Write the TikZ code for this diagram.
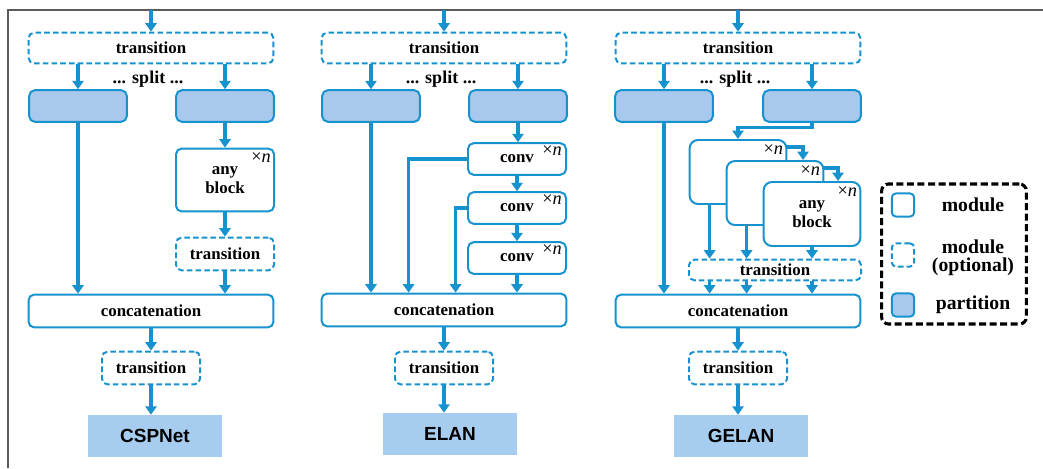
\documentclass[tikz,border=0pt]{standalone}
\usepackage{fontspec}
\setmainfont{Liberation Serif}
\setsansfont{Liberation Sans}
\usepackage{tikz}
\usetikzlibrary{shapes,arrows,arrows.meta}
\usetikzlibrary{positioning,calc}
\definecolor{lineblue}{RGB}{22,146,206}
\definecolor{partblue}{RGB}{168,200,238}
\definecolor{netblue}{RGB}{166,205,240}
\definecolor{framegray}{RGB}{90,90,90}
\tikzstyle{module} = [draw=lineblue, line width=1.4pt, rounded corners=4pt,
    fill=white, inner sep=0pt, align=center,
    font=\fontsize{12}{13.5}\selectfont\bfseries]
\tikzstyle{optmodule} = [module, dash pattern=on 4pt off 2.2pt]
\tikzstyle{partition} = [module, fill=partblue, minimum width=2.44cm,
    minimum height=0.79cm]
\tikzstyle{netname} = [fill=netblue, minimum width=3.35cm, minimum height=1.05cm,
    font=\fontsize{13.5}{15}\selectfont\sffamily\bfseries]
\tikzstyle{times} = [font=\fontsize{13}{13}\selectfont, inner sep=0pt]
\tikzstyle{note} = [font=\fontsize{12.8}{14}\selectfont\bfseries, inner sep=0pt]
\tikzstyle{flow} = [-{Triangle[width=8pt,length=6pt]}, lineblue, line width=2.4pt]
\tikzstyle{legtext} = [font=\fontsize{14}{13}\selectfont\bfseries, align=center]

\begin{document}
\begin{tikzpicture}[x=0.025cm, y=-0.025cm]
  \useasboundingbox (0,0) rectangle (1043,468);
  \draw [framegray, line width=1.2pt] (8,468) -- (8,10) -- (1043,10);

  % CSPNet
  \coordinate (cspin) at (151,10);
  \node [optmodule, minimum width=6.12cm, minimum height=0.77cm] (csptr) at (151,48)
  {transition};
  \node [note] (cspsplit) at (148,79) {... split ...};
  \node [partition] (csppl) at (78,106) {};
  \node [partition] (csppr) at (225,106) {};
  \node [module, minimum width=2.45cm, minimum height=1.57cm] (cspblk) at (225,180)
  {any\\block};
  \node [times] (cspxn) at ($(cspblk.north east)+(-14,10)$) {×\textit{n}};
  \node [optmodule, minimum width=2.45cm, minimum height=0.82cm] (csptr2) at (225,254)
  {transition};
  \node [module, minimum width=6.12cm, minimum height=0.82cm] (cspcat) at (151,311)
  {concatenation};
  \node [optmodule, minimum width=2.45cm, minimum height=0.82cm] (csptr3) at (151,368)
  {transition};
  \node [netname] (cspnet) at (155,436) {CSPNet};
  \draw [flow] (cspin) -- (csptr);
  \draw [flow] (csppl |- csptr.south) -- (csppl.north);
  \draw [flow] (csppr |- csptr.south) -- (csppr.north);
  \draw [flow] (csppl.south) -- (csppl.south |- cspcat.north);
  \draw [flow] (csppr.south) -- (cspblk.north);
  \draw [flow] (cspblk.south) -- (csptr2.north);
  \draw [flow] (csptr2.south) -- (csptr2.south |- cspcat.north);
  \draw [flow] (cspcat.south) -- (csptr3.north);
  \draw [flow] (csptr3.south) -- (csptr3.south |- cspnet.north);

  % ELAN
  \coordinate (elin) at (444,10);
  \node [optmodule, minimum width=6.12cm, minimum height=0.77cm] (eltr) at (444,48)
  {transition};
  \node [note] (elsplit) at (441,79) {... split ...};
  \node [partition] (elpl) at (371,106) {};
  \node [partition] (elpr) at (518,106) {};
  \node [module, minimum width=2.45cm, minimum height=0.79cm] (elconv1) at (517,159)
  {conv};
  \node [module, minimum width=2.45cm, minimum height=0.79cm, below of=elconv1,
    node distance=1.225cm] (elconv2) {conv};
  \node [module, minimum width=2.45cm, minimum height=0.79cm, below of=elconv2,
    node distance=1.25cm] (elconv3) {conv};
  \node [times] (elxn1) at ($(elconv1.north east)+(-15,8)$) {×\textit{n}};
  \node [times] (elxn2) at ($(elconv2.north east)+(-15,8)$) {×\textit{n}};
  \node [times] (elxn3) at ($(elconv3.north east)+(-15,8)$) {×\textit{n}};
  \node [module, minimum width=6.12cm, minimum height=0.82cm] (elcat) at (444,310)
  {concatenation};
  \node [optmodule, minimum width=2.45cm, minimum height=0.82cm] (eltr3) at (444,368)
  {transition};
  \node [netname] (elnet) at (450,434) {ELAN};
  \coordinate (elskip1) at ($(elcat.north west)+(88,0)$);
  \coordinate (elskip2) at ($(elcat.north west)+(135,0)$);
  \draw [flow] (elin) -- (eltr);
  \draw [flow] (elpl |- eltr.south) -- (elpl.north);
  \draw [flow] (elpr |- eltr.south) -- (elpr.north);
  \draw [flow] (elpl.south) -- (elpl.south |- elcat.north);
  \draw [flow] (elpr.south) -- (elconv1.north -| elpr.south);
  \draw [flow] (elconv1.south) -- (elconv2.north);
  \draw [flow] (elconv2.south) -- (elconv3.north);
  \draw [flow] (elconv3.south) -- (elconv3.south |- elcat.north);
  \draw [flow] (elconv1.west) -| (elskip1);
  \draw [flow] (elconv2.west) -| (elskip2);
  \draw [flow] (elcat.south) -- (eltr3.north);
  \draw [flow] (eltr3.south) -- (eltr3.south |- elnet.north);

  % GELAN
  \coordinate (gein) at (738,10);
  \node [optmodule, minimum width=6.12cm, minimum height=0.77cm] (getr) at (738,48)
  {transition};
  \node [note] (gesplit) at (735,79) {... split ...};
  \node [partition] (gepl) at (664,106) {};
  \node [partition] (gepr) at (812,106) {};
  \node [module, minimum width=2.42cm, minimum height=1.6cm, rounded corners=6pt]
  (geb1) at (738,172) {};
  \node [module, minimum width=2.42cm, minimum height=1.6cm, rounded corners=6pt]
  (geb2) at (775,193) {};
  \node [module, minimum width=2.42cm, minimum height=1.6cm, rounded corners=6pt]
  (geb3) at (812,214) {any\\block};
  \node [times] (gexn1) at ($(geb1.north east)+(-14,11)$) {×\textit{n}};
  \node [times] (gexn2) at ($(geb2.north east)+(-14,11)$) {×\textit{n}};
  \node [times] (gexn3) at ($(geb3.north east)+(-14,11)$) {×\textit{n}};
  \node [optmodule, minimum width=4.3cm, minimum height=0.52cm] (getr2) at (775,270)
  {transition};
  \node [module, minimum width=6.12cm, minimum height=0.82cm] (gecat) at (738,311)
  {concatenation};
  \node [optmodule, minimum width=2.45cm, minimum height=0.82cm] (getr3) at (738,368)
  {transition};
  \node [netname] (genet) at (741,436) {GELAN};
  \coordinate (geout1) at ($(geb1.south west)+(21,0)$);
  \coordinate (geout2) at ($(geb2.south west)+(21,0)$);
  \coordinate (gein2) at ($(geb2.north)+(28,0)$);
  \coordinate (gein3) at ($(geb3.north)+(26,0)$);
  \draw [flow] (gein) -- (getr);
  \draw [flow] (gepl |- getr.south) -- (gepl.north);
  \draw [flow] (gepr |- getr.south) -- (gepr.north);
  \draw [flow] (gepl.south) -- (gepl.south |- gecat.north);
  \draw [flow] (gepr.south) -- ++(0,5) -| (geb1.north);
  \draw [flow] ($(geb1.north east)+(0,8)$) -| (gein2);
  \draw [flow] ($(geb2.north east)+(0,8)$) -| (gein3);
  \draw [flow] (geout1) -- (geout1 |- getr2.north);
  \draw [flow] (geout2) -- (geout2 |- getr2.north);
  \draw [flow] (geb3.south) -- (geb3.south |- getr2.north);
  \draw [flow] (geout1 |- getr2.south) -- (geout1 |- gecat.north);
  \draw [flow] (geout2 |- getr2.south) -- (geout2 |- gecat.north);
  \draw [flow] (geb3.south |- getr2.south) -- (geb3.south |- gecat.north);
  \draw [flow] (gecat.south) -- (getr3.north);
  \draw [flow] (getr3.south) -- (getr3.south |- genet.north);

  % legend
  \node [draw, black, line width=2.2pt, dash pattern=on 5pt off 2.5pt, rounded corners=5pt,
    minimum width=3.62cm, minimum height=3.5cm] (legend) at (954,254) {};
  \node [module, minimum width=0.56cm, minimum height=0.58cm, rounded corners=3pt]
  (legmod) at (903,205) {};
  \node [optmodule, minimum width=0.56cm, minimum height=0.58cm, rounded corners=3pt]
  (legopt) at (903,255) {};
  \node [partition, minimum width=0.56cm, minimum height=0.58cm, rounded corners=3pt]
  (legpart) at (903,305) {};
  \node [legtext] (legmodtxt) at (973,205) {module};
  \node [legtext] (legopttxt) at (973,258) {module\\(optional)};
  \node [legtext] (legparttxt) at (973,305) {partition};
\end{tikzpicture}
\end{document}
